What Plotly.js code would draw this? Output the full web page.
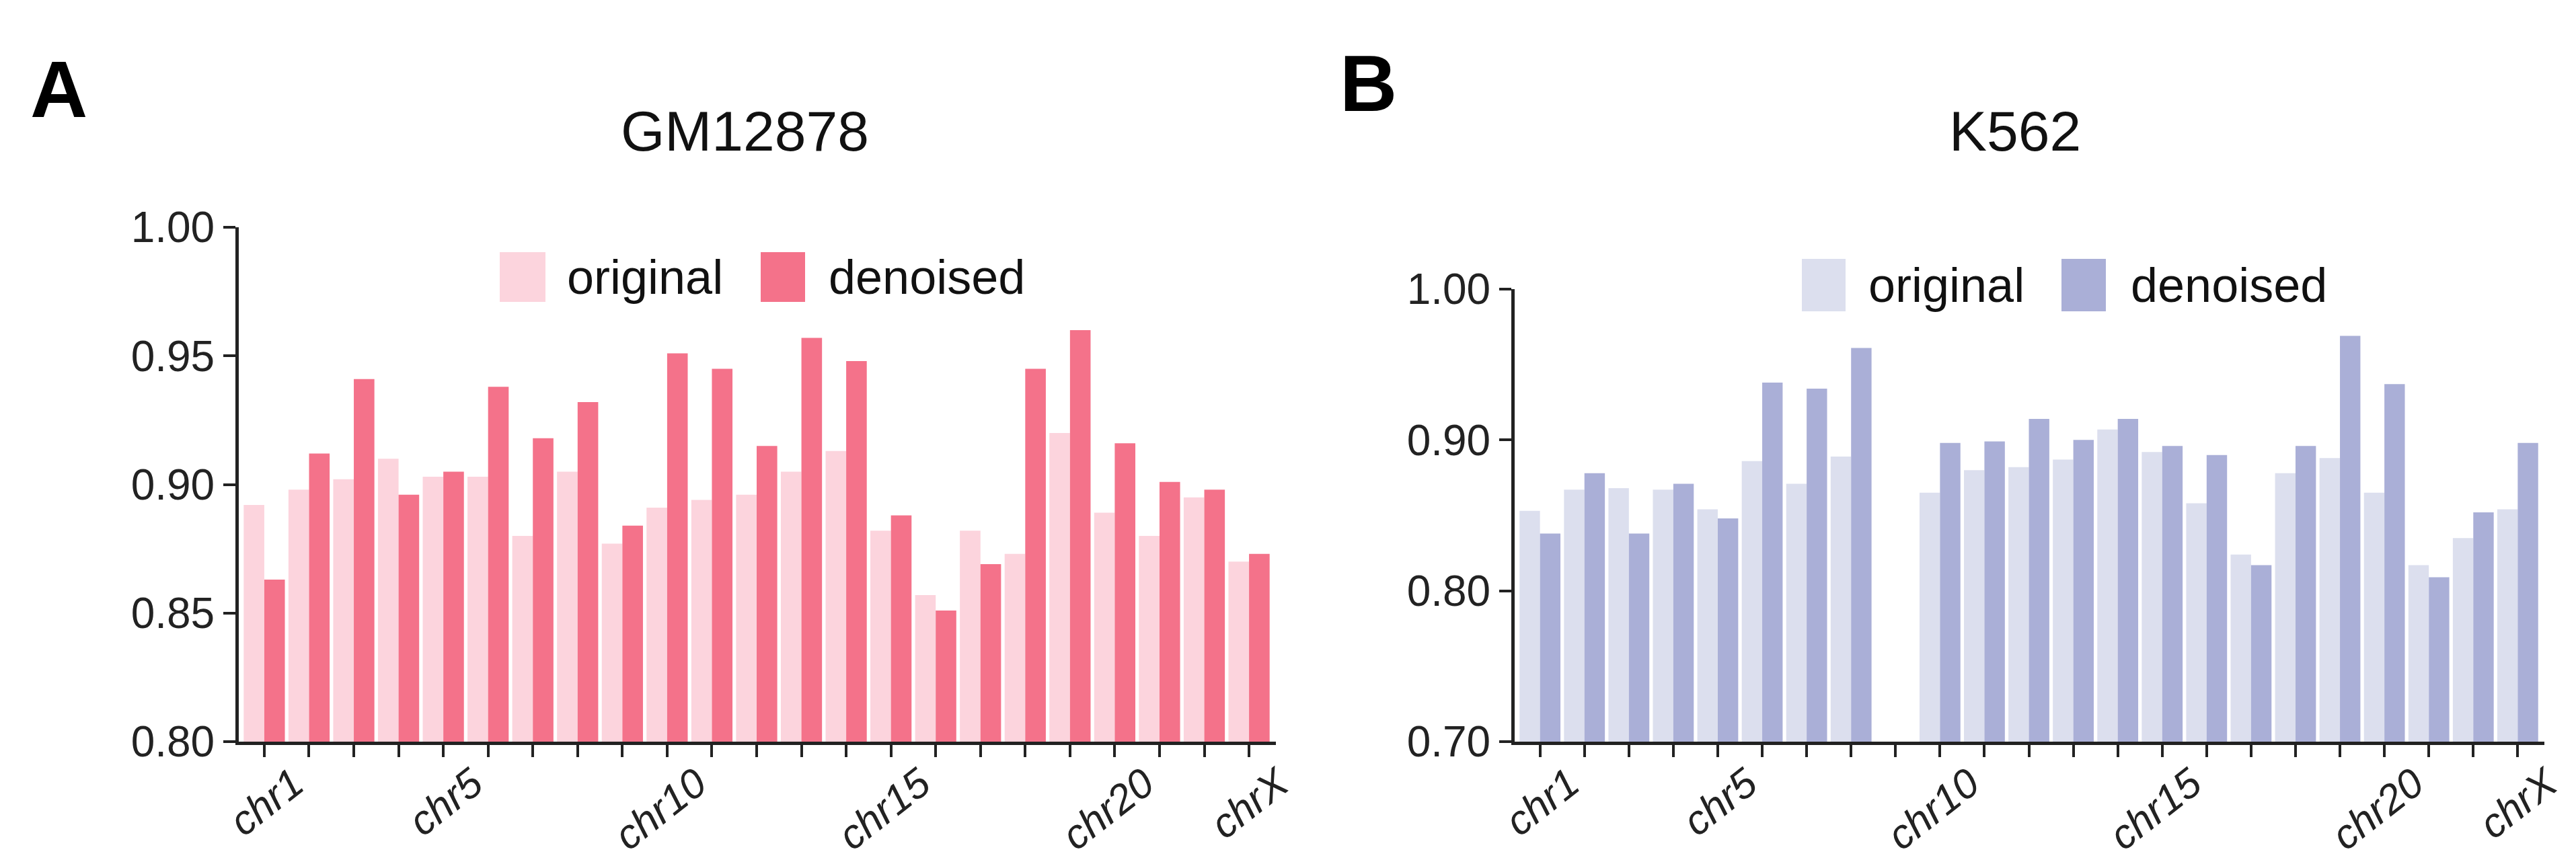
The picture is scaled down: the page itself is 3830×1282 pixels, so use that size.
<!DOCTYPE html>
<html>
<head>
<meta charset="utf-8">
<script src="https://cdn.plot.ly/plotly-3.0.1.min.js"></script>
<style>
  html, body { margin: 0; padding: 0; background: #ffffff; }
  #chart { width: 3830px; height: 1282px; }
</style>
</head>
<body>
<div id="chart"></div>
<script>
// ---------------- data ----------------
const chromosomes = ['chr1','chr2','chr3','chr4','chr5','chr6','chr7','chr8','chr9','chr10','chr11','chr12',
                     'chr13','chr14','chr15','chr16','chr17','chr18','chr19','chr20','chr21','chr22','chrX'];
const tickLabels  = ['chr1','','','','chr5','','','','','chr10','','','','','chr15','','','','','chr20','','','chrX'];

const gmOriginal = [0.892,0.898,0.902,0.910,0.903,0.903,0.880,0.905,0.877,0.891,0.894,0.896,
                    0.905,0.913,0.882,0.857,0.882,0.873,0.920,0.889,0.880,0.895,0.870];
const gmDenoised = [0.863,0.912,0.941,0.896,0.905,0.938,0.918,0.932,0.884,0.951,0.945,0.915,
                    0.957,0.948,0.888,0.851,0.869,0.945,0.960,0.916,0.901,0.898,0.873];

const k5Original = [0.853,0.867,0.868,0.867,0.854,0.886,0.871,0.889,null,0.865,0.880,0.882,
                    0.887,0.907,0.892,0.858,0.824,0.878,0.888,0.865,0.817,0.835,0.854];
const k5Denoised = [0.838,0.878,0.838,0.871,0.848,0.938,0.934,0.961,null,0.898,0.899,0.914,
                    0.900,0.914,0.896,0.890,0.817,0.896,0.969,0.937,0.809,0.852,0.898];

const seriesNames = ['original','denoised'];
const panelTitles = ['GM12878','K562'];
const panelLetters = ['A','B'];

// ---------------- styling ----------------
const W = 3830, H = 1282;
const FONT = 'Arial, "Liberation Sans", Helvetica, sans-serif';
const INK = '#222222';
const colA = ['#FCD4DD', '#F4728A'];
const colB = ['#DCDFEE', '#AAAFD7'];
const px = v => v / W;          // x pixel -> paper
const py = v => 1 - v / H;      // y pixel -> paper

const traces = [
  {type:'bar', name:seriesNames[0], x:chromosomes, y:gmOriginal, xaxis:'x',  yaxis:'y',  marker:{color:colA[0]}, showlegend:false},
  {type:'bar', name:seriesNames[1], x:chromosomes, y:gmDenoised, xaxis:'x',  yaxis:'y',  marker:{color:colA[1]}, showlegend:false},
  {type:'bar', name:seriesNames[0], x:chromosomes, y:k5Original, xaxis:'x2', yaxis:'y2', marker:{color:colB[0]}, showlegend:false},
  {type:'bar', name:seriesNames[1], x:chromosomes, y:k5Denoised, xaxis:'x2', yaxis:'y2', marker:{color:colB[1]}, showlegend:false}
];

function xAxis(domain, anchor) {
  return {
    domain: domain, anchor: anchor, type: 'category',
    range: [-0.57, 22.6],
    showline: true, linewidth: 5, linecolor: INK,
    ticks: 'outside', ticklen: 18, tickwidth: 4, tickcolor: INK,
    tickmode: 'array', tickvals: chromosomes, ticktext: tickLabels,
    tickangle: -38, ticklabelshift: 44, ticklabelstandoff: -20,
    tickfont: {family: FONT, size: 61, color: INK, style: 'italic'},
    showgrid: false, zeroline: false, fixedrange: true
  };
}
function yAxis(domain, anchor, range, dtick) {
  return {
    domain: domain, anchor: anchor, range: range,
    tick0: range[0], dtick: dtick, tickformat: '.2f',
    showline: true, linewidth: 5, linecolor: INK,
    ticks: 'outside', ticklen: 18, tickwidth: 4, tickcolor: INK,
    tickfont: {family: FONT, size: 64, color: INK},
    showgrid: false, zeroline: false, fixedrange: true
  };
}

// custom legend (large square swatches as in the reference)
function legendParts(swatchX, textX, yTop, yBot, cols) {
  const shapes = [], anns = [];
  for (let i = 0; i < 2; i++) {
    shapes.push({type:'rect', xref:'paper', yref:'paper',
      x0: px(swatchX[i][0]), x1: px(swatchX[i][1]), y0: py(yBot), y1: py(yTop),
      fillcolor: cols[i], line: {width: 0}});
    anns.push({xref:'paper', yref:'paper', x: px(textX[i]), y: py((yTop + yBot) / 2),
      xanchor:'left', yanchor:'middle', showarrow:false, borderpad:0,
      text: seriesNames[i], font:{family: FONT, size: 72, color: '#111'}});
  }
  return {shapes, anns};
}
const legA = legendParts([[743, 811], [1131, 1197]], [842, 1231], 375, 449, colA);
const legB = legendParts([[2679, 2744], [3065, 3131]], [2777, 3167], 385, 463, colB);

const annotations = [
  {xref:'paper', yref:'paper', x: px(1107), y: py(195), xanchor:'center', yanchor:'middle', showarrow:false,
   text: panelTitles[0], font:{family: FONT, size: 84, color: '#111'}},
  {xref:'paper', yref:'paper', x: px(2996), y: py(195), xanchor:'center', yanchor:'middle', showarrow:false,
   text: panelTitles[1], font:{family: FONT, size: 84, color: '#111'}},
  {xref:'paper', yref:'paper', x: px(87), y: py(133), xanchor:'center', yanchor:'middle', showarrow:false,
   text: '<b>' + panelLetters[0] + '</b>', font:{family: FONT, size: 118, color: '#000'}},
  {xref:'paper', yref:'paper', x: px(2034), y: py(124), xanchor:'center', yanchor:'middle', showarrow:false,
   text: '<b>' + panelLetters[1] + '</b>', font:{family: FONT, size: 118, color: '#000'}}
].concat(legA.anns, legB.anns);

const layout = {
  width: W, height: H,
  margin: {l: 0, r: 0, t: 0, b: 0},
  paper_bgcolor: '#ffffff', plot_bgcolor: '#ffffff',
  barmode: 'group', bargap: 0.08, bargroupgap: 0,
  showlegend: false,
  font: {family: FONT, color: INK},
  xaxis:  xAxis([px(355), px(1897)], 'y'),
  yaxis:  yAxis([py(1103), py(338)], 'x', [0.80, 1.00], 0.05),
  xaxis2: xAxis([px(2252), px(3783)], 'y2'),
  yaxis2: yAxis([py(1103), py(430)], 'x2', [0.70, 1.00], 0.10),
  shapes: legA.shapes.concat(legB.shapes),
  annotations: annotations
};

Plotly.newPlot('chart', traces, layout, {staticPlot: true, displayModeBar: false});
</script>
</body>
</html>
